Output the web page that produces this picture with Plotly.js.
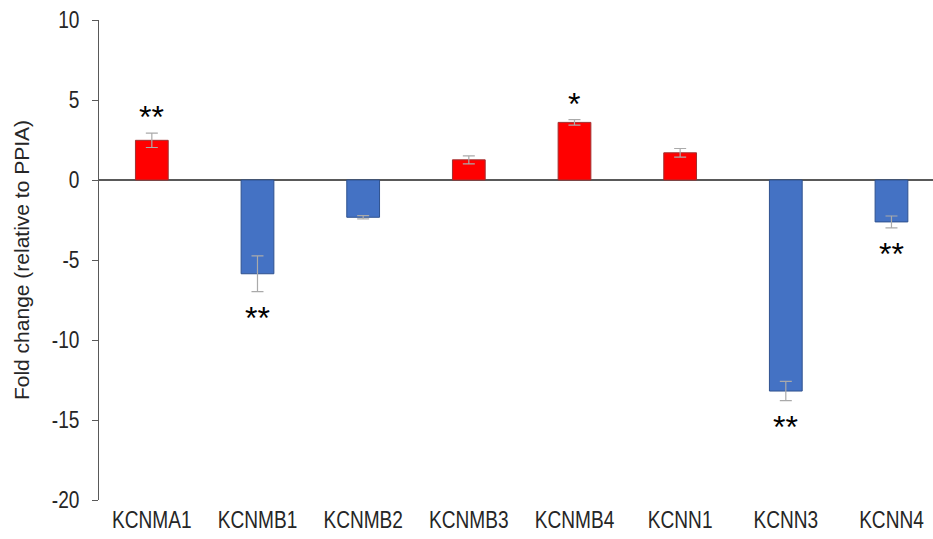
<!DOCTYPE html>
<html>
<head>
<meta charset="utf-8">
<script src="https://cdn.plot.ly/plotly-3.0.1.min.js"></script>
<style>html,body{margin:0;padding:0;background:#fff;}#chart{width:933px;height:539px;}</style>
</head>
<body>
<div id="chart"></div>
<script>
const genes = ["KCNMA1","KCNMB1","KCNMB2","KCNMB3","KCNMB4","KCNN1","KCNN3","KCNN4"];
const foldChange = [2.48, -5.86, -2.33, 1.26, 3.6, 1.7, -13.19, -2.62];
const errors = [0.45, 1.12, 0.1, 0.25, 0.17, 0.27, 0.6, 0.37];
const significance = ["**", "**", "", "", "*", "", "**", "**"];
const yTickVals = [10, 5, 0, -5, -10, -15, -20];
const yTickText = ["10", "5", "0", "-5", "-10", "-15", "-20"];

const FONT = '"Liberation Sans", Arial, sans-serif';
const CONDENSE = 0.83;

const fillColors = foldChange.map(v => v >= 0 ? '#FF0000' : '#4472C4');
const lineColors = foldChange.map(v => v >= 0 ? '#A03030' : '#2F528F');

const trace = {
  type: 'bar',
  x: genes,
  y: foldChange,
  width: 0.31,
  marker: {color: fillColors, line: {color: lineColors, width: 1}},
  error_y: {type: 'data', array: errors, visible: true, color: '#AAAAAA', thickness: 1.2, width: 6},
  hoverinfo: 'x+y'
};

const annotations = [];
genes.forEach((g, i) => {
  if (!significance[i]) return;
  const pos = foldChange[i] >= 0;
  annotations.push({
    x: g, y: foldChange[i] + (pos ? errors[i] : -errors[i]),
    xref: 'x', yref: 'y',
    text: significance[i], showarrow: false,
    yanchor: pos ? 'bottom' : 'top',
    yshift: pos ? -4 : -6,
    font: {family: FONT, size: 32, color: '#000'}
  });
});

const layout = {
  width: 933, height: 539,
  margin: {l: 99, r: 0, t: 20, b: 39, pad: 0},
  paper_bgcolor: '#fff', plot_bgcolor: '#fff',
  showlegend: false,
  font: {family: FONT, size: 18, color: '#262626'},
  xaxis: {
    type: 'category',
    range: [-0.5, 7.393],
    showline: false, showgrid: false, zeroline: false, ticks: '',
    tickfont: {family: FONT, size: 23, color: '#262626'},
    ticklabelstandoff: 4
  },
  yaxis: {
    range: [-20, 10],
    tickmode: 'array', tickvals: yTickVals, ticktext: yTickText,
    showgrid: false,
    showline: true, linecolor: '#595959', linewidth: 1,
    ticks: 'outside', ticklen: 6, tickcolor: '#595959', tickwidth: 1,
    zeroline: true, zerolinecolor: '#595959', zerolinewidth: 1.5,
    tickfont: {family: FONT, size: 23, color: '#262626'},
    ticklabelstandoff: 8,
    title: {text: 'Fold change (relative to PPIA)', font: {family: FONT, size: 21, color: '#262626'}, standoff: 10}
  },
  annotations: annotations
};

Plotly.newPlot('chart', [trace], layout, {displayModeBar: false, staticPlot: true}).then(gd => {
  gd.querySelectorAll('.xtick text, .ytick text, text.xtick, text.ytick').forEach(t => {
    const x = parseFloat(t.getAttribute('x')) || 0;
    const y = parseFloat(t.getAttribute('y')) || 0;
    const tr = t.getAttribute('transform') || '';
    t.setAttribute('transform', tr + ` translate(${x},${y}) scale(${CONDENSE},1) translate(${-x},${-y})`);
  });
});
</script>
</body>
</html>
